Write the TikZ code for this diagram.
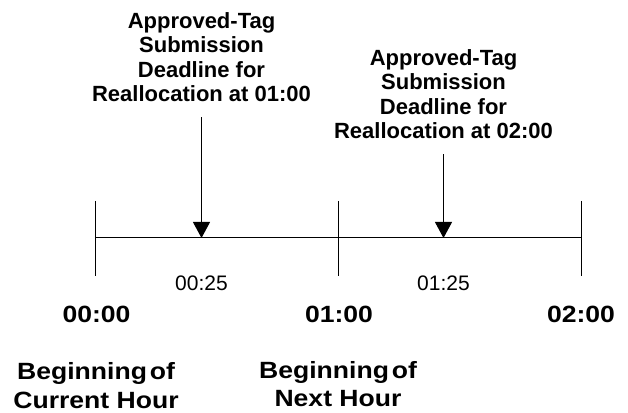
\documentclass[tikz,border=0pt]{standalone}
\usepackage{fontspec}
\setmainfont{Liberation Sans}
\newfontfamily\widesans[FakeStretch=1.13]{Liberation Sans}
\usetikzlibrary{arrows.meta}
\tikzset{
  axisline/.style={line width=1pt, black},
  arr/.style={line width=1pt, -{Triangle[width=17pt,length=16pt]}},
  title/.style={font=\bfseries\fontsize{22}{24.5}\selectfont, align=center, inner sep=0pt, anchor=north},
  hourlbl/.style={font=\widesans\bfseries\fontsize{23.5}{29}\selectfont, inner sep=0pt, anchor=base},
  minlbl/.style={font=\fontsize{21}{24}\selectfont, inner sep=0pt, anchor=base},
  begin/.style={font=\widesans\bfseries\fontsize{23.5}{28.5}\selectfont, align=center, inner sep=0pt, anchor=north}
}
\begin{document}
\begin{tikzpicture}[x=1pt,y=1pt]
\useasboundingbox (0,0) rectangle (628,412);
\fill[white] (0,0) rectangle (628,412);
% timeline
\coordinate (s0) at (95,174);
\coordinate (s1) at (338,174);
\coordinate (s2) at (581,174);
\coordinate (d1) at (201.5,174);
\coordinate (d2) at (443.5,174);
\draw[axisline] (s0) -- (s2);
\foreach \c in {s0,s1,s2}{
  \draw[axisline] ([yshift=37pt]\c) -- ([yshift=-38pt]\c);
}
% titles
\node[title] (t1) at (201.5,400) {Approved-Tag\\Submission\\Deadline for\\Reallocation at 01:00};
\node[title] (t2) at (443.5,363) {Approved-Tag\\Submission\\Deadline for\\Reallocation at 02:00};
\draw[arr] ([yshift=-15pt]t1.south) -- (d1);
\draw[arr] ([yshift=-15pt]t2.south) -- (d2);
% minute labels
\node[minlbl] (m1) at (201.5,121) {00:25};
\node[minlbl] (m2) at (443.5,121) {01:25};
% hour labels
\node[hourlbl] (h0) at (96.5,89.5) {00:00};
\node[hourlbl] (h1) at (339,89.5) {01:00};
\node[hourlbl] (h2) at (581,89.5) {02:00};
% beginning labels
\node[begin] (b0) at (96,49.5) {Beginning\hspace{0.12em}of\\Current Hour};
\node[begin] (b1) at (338,51) {Beginning\hspace{0.12em}of\\Next Hour};
\end{tikzpicture}
\end{document}
